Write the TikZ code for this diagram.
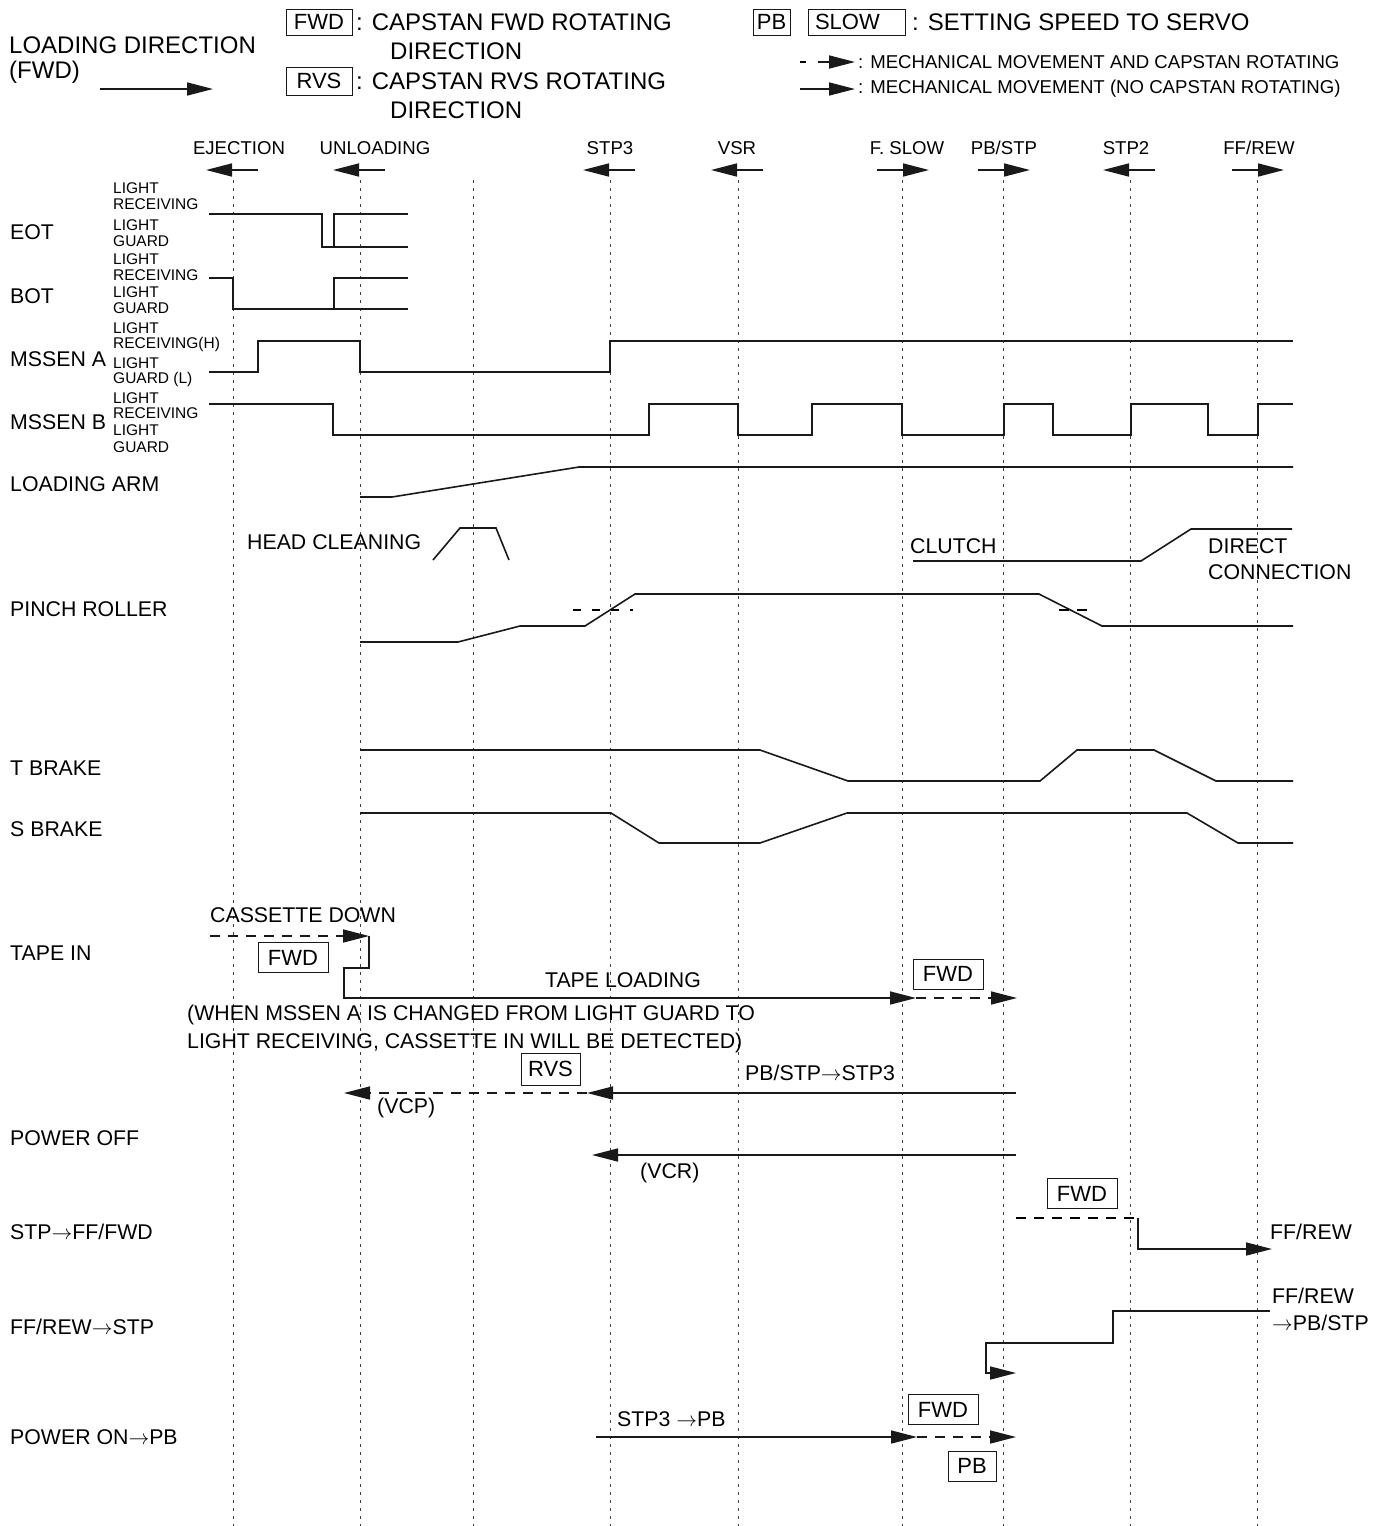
\documentclass[tikz,border=0pt]{standalone}
\usepackage{fontspec}
\setmainfont{Liberation Sans}
\usepackage{tikz}
\usetikzlibrary{arrows.meta,positioning,calc}

\tikzset{
  colline/.style={line width=1pt, dash pattern=on 3pt off 5pt, black!75},
  sig/.style={line width=1.6pt, black!90, line join=miter},
  mvarrow/.style={line width=1.6pt, black!90, -{Triangle[length=26pt,width=13pt]}},
  capdash/.style={line width=1.6pt, black!90, dash pattern=on 10pt off 8pt, -{Triangle[length=26pt,width=13pt]}},
  hdr/.style={font=\fontsize{24}{28}\selectfont, anchor=west, inner sep=0pt},
  rowlbl/.style={font=\fontsize{21.3}{25}\selectfont, anchor=west, inner sep=0pt},
  colhd/.style={font=\fontsize{18.6}{22}\selectfont, inner sep=0pt},
  leg/.style={font=\fontsize{18.6}{22}\selectfont, anchor=west, inner sep=0pt},
  lvl/.style={font=\fontsize{15.5}{18}\selectfont, anchor=west, inner sep=0pt},
  spd/.style={draw, line width=1pt, black!90, text=black, font=\fontsize{22}{26}\selectfont,
    inner sep=0pt, minimum height=30pt, minimum width=70pt}
}

\begin{document}
\begin{tikzpicture}[x=1pt,y=-1pt]
\useasboundingbox (0,0) rectangle (1388,1526);

% header and legend
\node[hdr] (ldir) at (9,45) {LOADING DIRECTION};
\node[hdr] (lfwd) at (9,72) {(FWD)};
\draw[mvarrow] (100,89) -- (213,89);

\node[spd, minimum width=66pt, minimum height=26pt] (kfwd) at (319,22) {FWD};
\node[hdr] (kfwdt) at (356,22) {: CAPSTAN FWD ROTATING};
\node[hdr] (kfwdd) at (390,51) {DIRECTION};
\node[spd, minimum width=66pt, minimum height=28pt] (krvs) at (319,81) {RVS};
\node[hdr] (krvst) at (356,81) {: CAPSTAN RVS ROTATING};
\node[hdr] (krvsd) at (390,110) {DIRECTION};

\node[spd, minimum width=37pt, minimum height=26pt] (kpb) at (771.5,22) {PB};
\node[spd, minimum width=97pt, minimum height=26pt, text width=83pt, align=left] (kslow) at (856.5,22) {SLOW};
\node[hdr] (kslowt) at (912,22) {: SETTING SPEED TO SERVO};

\draw[line width=1.6pt] (800,62) -- (806,62);
\draw[mvarrow] (818,62) -- (855,62);
\node[leg] (lcap) at (858,62) {: MECHANICAL MOVEMENT AND CAPSTAN ROTATING};
\draw[mvarrow] (800,89) -- (855,89);
\node[leg] (lmech) at (858,89) {: MECHANICAL MOVEMENT (NO CAPSTAN ROTATING)};

% time lines
\foreach \x in {233,360,473,610,738,902,1003,1130,1257}
  \draw[colline] (\x,180) -- (\x,1526);

\foreach \x/\lx/\name/\d [count=\i] in {233/239/EJECTION/-1, 360/375/UNLOADING/-1,
    610/610/STP3/-1, 738/737/VSR/-1, 902/907/{F. SLOW}/1, 1003/1004/{PB/STP}/1,
    1130/1126/STP2/-1, 1257/1259/{FF/REW}/1}
{
  \node[colhd] (col\i) at (\lx,148) {\name};
  \draw[mvarrow] (\x-25*\d,170) -- (\x+27*\d,170);
}

% row names
\foreach \y/\t [count=\i] in {232/EOT, 296/BOT, 359/MSSEN A, 422/MSSEN B, 484/LOADING ARM,
    609/PINCH ROLLER, 768/T BRAKE, 829/S BRAKE, 953/TAPE IN, 1138/POWER OFF,
    1232/{STP\(\rightarrow\)FF/FWD}, 1327/{FF/REW\(\rightarrow\)STP}, 1437/{POWER ON\(\rightarrow\)PB}}
  \node[rowlbl] (row\i) at (10,\y) {\t};

\foreach \y/\t [count=\i] in {188/LIGHT, 204/RECEIVING, 225/LIGHT, 241/GUARD,
    259/LIGHT, 275/RECEIVING, 292/LIGHT, 308/GUARD,
    328/LIGHT, 344/RECEIVING(H), 363/LIGHT, 379/GUARD (L),
    398/LIGHT, 413/RECEIVING, 430/LIGHT, 447/GUARD}
  \node[lvl] (lv\i) at (113,\y) {\t};

% sensors
\draw[sig] (209,214) -- (322,214) -- (322,247) -- (334,247) -- (334,214) -- (408,214);
\draw[sig] (334,247) -- (408,247);
\draw[sig] (209,278) -- (233,278) -- (233,309) -- (334,309) -- (334,278) -- (408,278);
\draw[sig] (334,309) -- (408,309);
\draw[sig] (209,372) -- (258,372) -- (258,341) -- (360,341) -- (360,372) -- (610,372)
  -- (610,341) -- (1293,341);
\draw[sig] (209,404) -- (333,404) -- (333,435) -- (649,435) -- (649,404) -- (738,404)
  -- (738,435) -- (812,435) -- (812,404) -- (902,404) -- (902,435) -- (1004,435)
  -- (1004,404) -- (1053,404) -- (1053,435) -- (1131,435) -- (1131,404) -- (1208,404)
  -- (1208,435) -- (1258,435) -- (1258,404) -- (1293,404);

% mechanism
\draw[sig] (360,497) -- (392,497) -- (579,467) -- (1293,467);
\node[rowlbl] (hclean) at (247,542) {HEAD CLEANING};
\draw[sig] (433,560) -- (460,528) -- (496,528) -- (509,560);
\draw[sig] (360,642) -- (458,642) -- (520,626) -- (585,626) -- (635,594) -- (1039,594)
  -- (1102,626) -- (1293,626);
\draw[line width=1.4pt, dash pattern=on 8pt off 11pt] (573,610) -- (633,610);
\draw[line width=1.4pt, dash pattern=on 10pt off 8pt] (1059,610) -- (1087,610);
\node[rowlbl] (clutch) at (910,546) {CLUTCH};
\draw[sig] (913,561) -- (1141,561) -- (1191,529) -- (1292,529);
\node[rowlbl] (direct) at (1208,546) {DIRECT};
\node[rowlbl] (dconn) at (1208,572) {CONNECTION};

\draw[sig] (360,750) -- (760,750) -- (848,781) -- (1040,781) -- (1077,750) -- (1154,750)
  -- (1216,781) -- (1293,781);
\draw[sig] (360,813) -- (611,813) -- (659,843) -- (760,843) -- (847,813) -- (1187,813)
  -- (1238,843) -- (1293,843);

% tape in
\node[rowlbl] (cdown) at (210,915) {CASSETTE DOWN};
\draw[capdash] (210,936) -- (369,936);
\node[spd] (tfwd1) at (293,957.5) {FWD};
\draw[mvarrow] (369,936) -- (369,968) -- (344,968) -- (344,998) -- (916,998);
\node[rowlbl, anchor=center] (tload) at (623,980) {TAPE LOADING};
\draw[capdash] (916,998) -- (1017,998);
\node[spd] (tfwd2) at (948,974) {FWD};
\node[rowlbl] (note1) at (187,1015) {(WHEN MSSEN A IS CHANGED FROM LIGHT GUARD TO};
\node[rowlbl] (note2) at (187,1043) {LIGHT RECEIVING, CASSETTE IN WILL BE DETECTED)};

% unloading
\node[spd, minimum width=59pt, minimum height=32pt] (trvs) at (550.5,1069) {RVS};
\node[rowlbl] (pbstp3) at (745,1073) {PB/STP\(\rightarrow\)STP3};
\draw[mvarrow] (1016,1093) -- (587,1093);
\draw[capdash] (587,1093) -- (344,1093);
\node[rowlbl] (vcp) at (377,1108) {(VCP)};

% power off
\draw[mvarrow] (1016,1155) -- (592,1155);
\node[rowlbl] (vcr) at (640,1173) {(VCR)};

% stp to ff
\node[spd] (ffwd) at (1082,1193.5) {FWD};
\draw[line width=1.6pt, dash pattern=on 10pt off 8pt] (1016,1218) -- (1138,1218);
\draw[mvarrow] (1138,1218) -- (1138,1249) -- (1272,1249);
\node[rowlbl] (ffrew1) at (1270,1232) {FF/REW};

% ff to stp
\draw[mvarrow] (1270,1311) -- (1113,1311) -- (1113,1343) -- (986,1343) -- (986,1373) -- (1016,1373);
\node[rowlbl] (ffrew2) at (1272,1296) {FF/REW};
\node[rowlbl] (topbstp) at (1272,1323) {\(\rightarrow\)PB/STP};

% power on
\node[rowlbl] (stp3pb) at (617,1419) {STP3 \(\rightarrow\)PB};
\draw[mvarrow] (596,1437) -- (917,1437);
\draw[capdash] (917,1437) -- (1016,1437);
\node[spd] (pfwd) at (943,1409.5) {FWD};
\node[spd, minimum width=48pt] (ppb) at (972,1466) {PB};
\end{tikzpicture}
\end{document}
